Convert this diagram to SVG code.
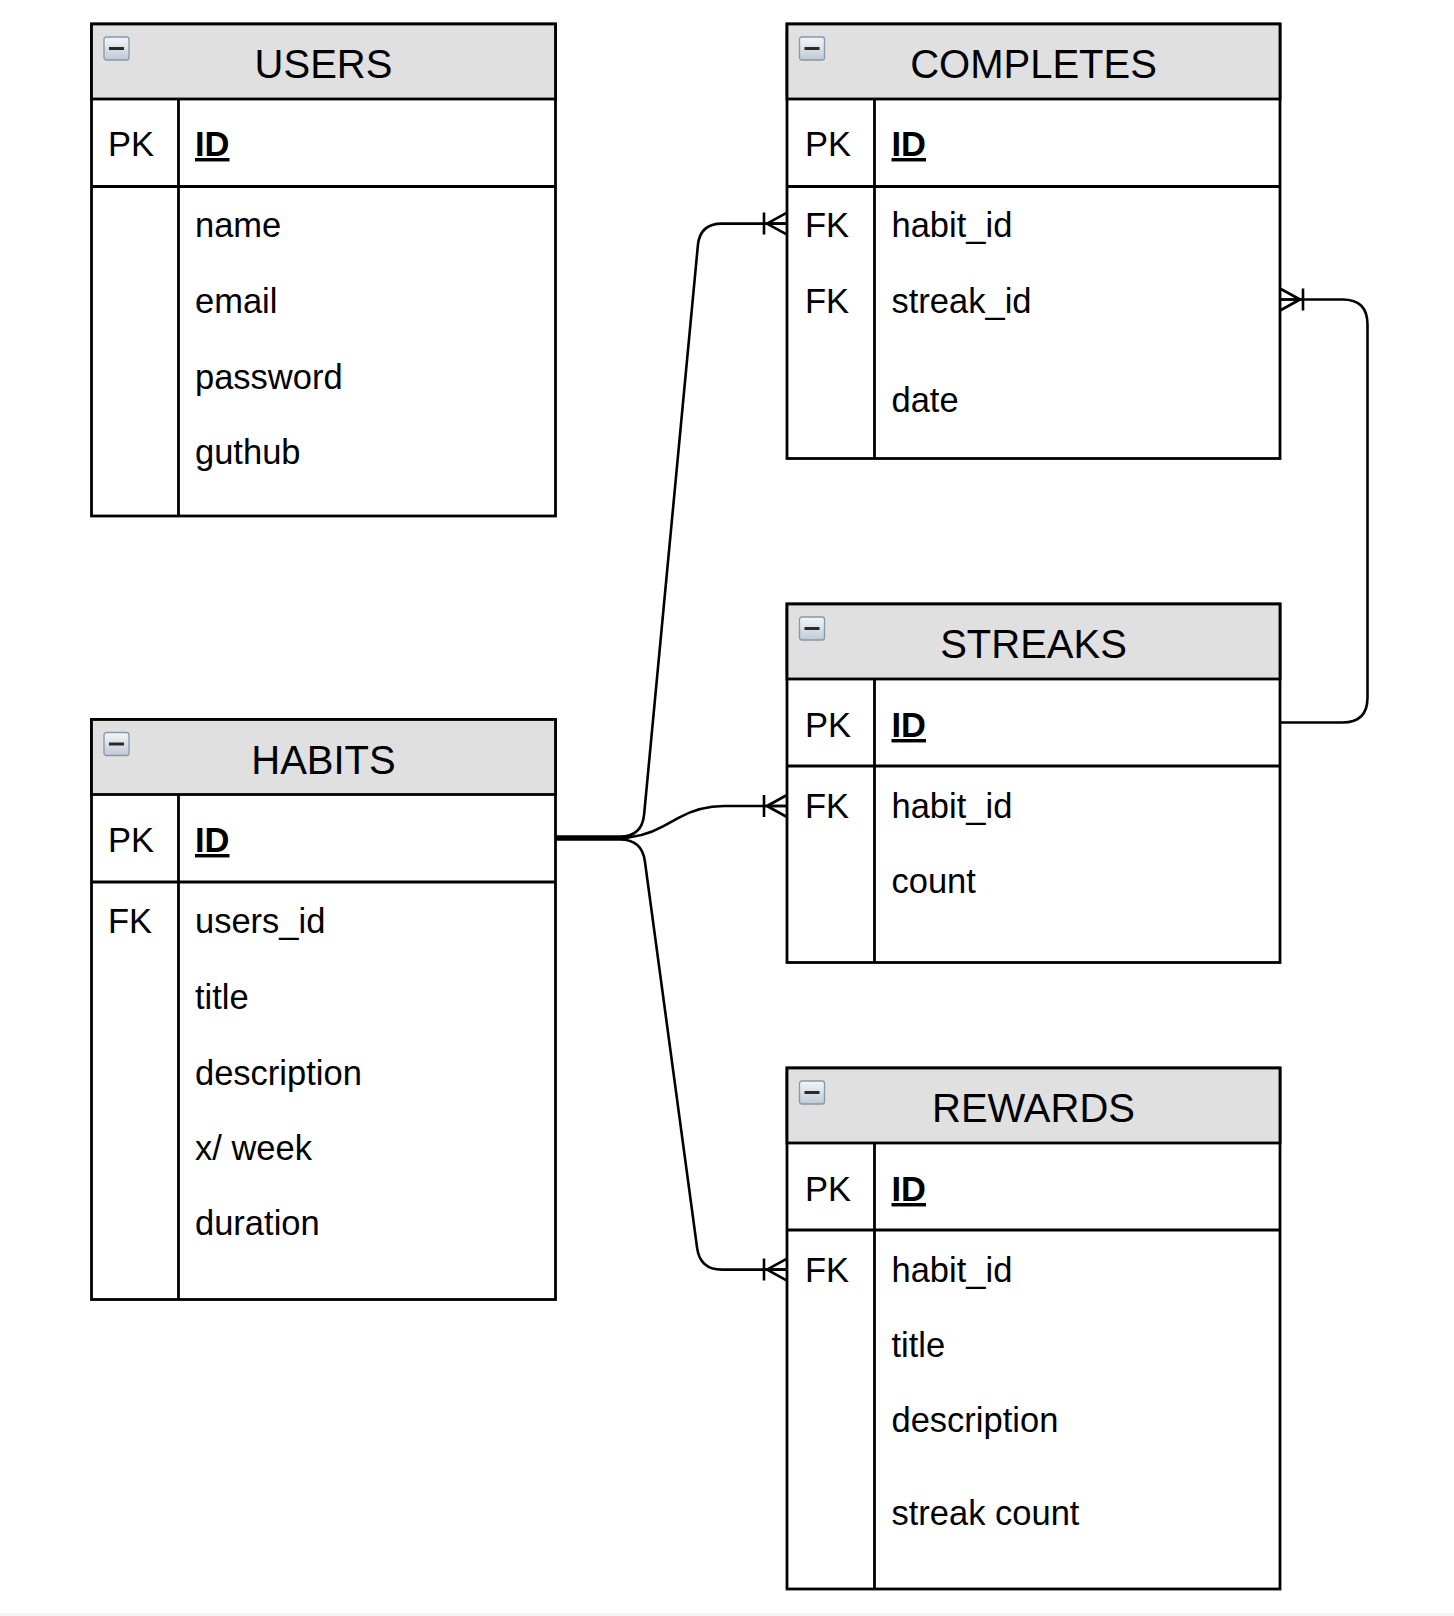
<svg xmlns="http://www.w3.org/2000/svg" width="1454" height="1616" viewBox="0 0 1454 1616">
<style>
  .box { fill: #ffffff; stroke: #000; stroke-width: 2.8; }
  .hdr { fill: #e0e0e0; stroke: #000; stroke-width: 2.8; }
  .ln { stroke: #000; stroke-width: 2.8; fill: none; }
  .title { font-family: "Liberation Sans", Arial, sans-serif; font-size: 40px; fill: #000; text-anchor: middle; }
  .t { font-family: "Liberation Sans", Arial, sans-serif; font-size: 34.5px; fill: #000; }
  .pk { font-family: "Liberation Sans", Arial, sans-serif; font-size: 34.5px; fill: #000; font-weight: bold; text-decoration: underline; }
  .edge { stroke: #000; stroke-width: 2.6; fill: none; stroke-linejoin: round; }
</style>
<defs>
  <linearGradient id="ig" x1="0" y1="0" x2="0" y2="1">
    <stop offset="0" stop-color="#f4f6f9"/>
    <stop offset="1" stop-color="#bfc9d4"/>
  </linearGradient>
  <g id="icon">
    <rect x="0" y="0" width="25" height="23" rx="2.5" fill="url(#ig)" stroke="#8797a8" stroke-width="1.3"/>
    <rect x="5" y="10" width="15" height="3" fill="#2a2a2a"/>
  </g>
  <marker id="many" viewBox="-26 -14 28 28" refX="0" refY="0" markerWidth="28" markerHeight="28" markerUnits="userSpaceOnUse" orient="auto" overflow="visible">
    <path d="M-20,0 L0,-11 M-20,0 L0,11 M-23,-11 L-23,11 M-23,0 L0,0" stroke="#000" stroke-width="2.6" fill="none"/>
  </marker>
</defs>
<rect x="0" y="0" width="1454" height="1616" fill="#ffffff"/>
<rect x="0" y="1613" width="1454" height="3" fill="#f3f4f6"/>

<g id="connectors">
  <path class="edge" d="M555.5,836.5 H620 Q642,836.5 644.1,814.6 L697.9,245.1 Q700,223.6 722,223.6 H787" marker-end="url(#many)"/>
  <path class="edge" d="M555.5,838 H618 Q642,838 663,826.4 L679,817.6 Q700,806 724,806 H787" marker-end="url(#many)"/>
  <path class="edge" d="M555.5,839.5 H620 Q642,839.5 644.9,861.3 L697.1,1247.8 Q700,1269.6 722,1269.6 H787" marker-end="url(#many)"/>
  <path class="edge" d="M1280,722.5 H1342.5 Q1367.5,722.5 1367.5,697.5 V324.5 Q1367.5,299.5 1342.5,299.5 H1280" marker-end="url(#many)"/>
</g>

<g id="users">
  <rect class="box" x="91.5" y="24" width="464" height="492"/>
  <rect class="hdr" x="91.5" y="24" width="464" height="75"/>
  <use href="#icon" x="104" y="37"/>
  <text class="title" x="323.5" y="78">USERS</text>
  <line class="ln" x1="91.5" y1="186.5" x2="555.5" y2="186.5"/>
  <line class="ln" x1="178.5" y1="99" x2="178.5" y2="516"/>
  <text class="t" x="108" y="156">PK</text>
  <text class="pk" x="195" y="156">ID</text>
  <text class="t" x="195" y="237">name</text>
  <text class="t" x="195" y="312.5">email</text>
  <text class="t" x="195" y="389">password</text>
  <text class="t" x="195" y="464">guthub</text>
</g>

<g id="habits">
  <rect class="box" x="91.5" y="719.5" width="464" height="580"/>
  <rect class="hdr" x="91.5" y="719.5" width="464" height="75"/>
  <use href="#icon" x="104" y="732.5"/>
  <text class="title" x="323.5" y="773.5">HABITS</text>
  <line class="ln" x1="91.5" y1="882" x2="555.5" y2="882"/>
  <line class="ln" x1="178.5" y1="794.5" x2="178.5" y2="1299.5"/>
  <text class="t" x="108" y="852">PK</text>
  <text class="pk" x="195" y="852">ID</text>
  <text class="t" x="108" y="933">FK</text>
  <text class="t" x="195" y="933">users_id</text>
  <text class="t" x="195" y="1008.5">title</text>
  <text class="t" x="195" y="1084.5">description</text>
  <text class="t" x="195" y="1160">x/ week</text>
  <text class="t" x="195" y="1235">duration</text>
</g>

<g id="completes">
  <rect class="box" x="787" y="24" width="493" height="434.5"/>
  <rect class="hdr" x="787" y="24" width="493" height="75"/>
  <use href="#icon" x="799.5" y="37"/>
  <text class="title" x="1033.5" y="78">COMPLETES</text>
  <line class="ln" x1="787" y1="186.5" x2="1280" y2="186.5"/>
  <line class="ln" x1="874.5" y1="99" x2="874.5" y2="458.5"/>
  <text class="t" x="805" y="156">PK</text>
  <text class="pk" x="891.5" y="156">ID</text>
  <text class="t" x="805" y="237">FK</text>
  <text class="t" x="891.5" y="237">habit_id</text>
  <text class="t" x="805" y="312.5">FK</text>
  <text class="t" x="891.5" y="312.5">streak_id</text>
  <text class="t" x="891.5" y="411.5">date</text>
</g>

<g id="streaks">
  <rect class="box" x="787" y="604" width="493" height="358.5"/>
  <rect class="hdr" x="787" y="604" width="493" height="75"/>
  <use href="#icon" x="799.5" y="617"/>
  <text class="title" x="1033.5" y="658">STREAKS</text>
  <line class="ln" x1="787" y1="766" x2="1280" y2="766"/>
  <line class="ln" x1="874.5" y1="679" x2="874.5" y2="962.5"/>
  <text class="t" x="805" y="737">PK</text>
  <text class="pk" x="891.5" y="737">ID</text>
  <text class="t" x="805" y="818">FK</text>
  <text class="t" x="891.5" y="818">habit_id</text>
  <text class="t" x="891.5" y="893">count</text>
</g>

<g id="rewards">
  <rect class="box" x="787" y="1068" width="493" height="521"/>
  <rect class="hdr" x="787" y="1068" width="493" height="75"/>
  <use href="#icon" x="799.5" y="1081"/>
  <text class="title" x="1033.5" y="1122">REWARDS</text>
  <line class="ln" x1="787" y1="1230" x2="1280" y2="1230"/>
  <line class="ln" x1="874.5" y1="1143" x2="874.5" y2="1589"/>
  <text class="t" x="805" y="1201">PK</text>
  <text class="pk" x="891.5" y="1201">ID</text>
  <text class="t" x="805" y="1281.5">FK</text>
  <text class="t" x="891.5" y="1281.5">habit_id</text>
  <text class="t" x="891.5" y="1356.5">title</text>
  <text class="t" x="891.5" y="1432">description</text>
  <text class="t" x="891.5" y="1525">streak count</text>
</g>
</svg>
